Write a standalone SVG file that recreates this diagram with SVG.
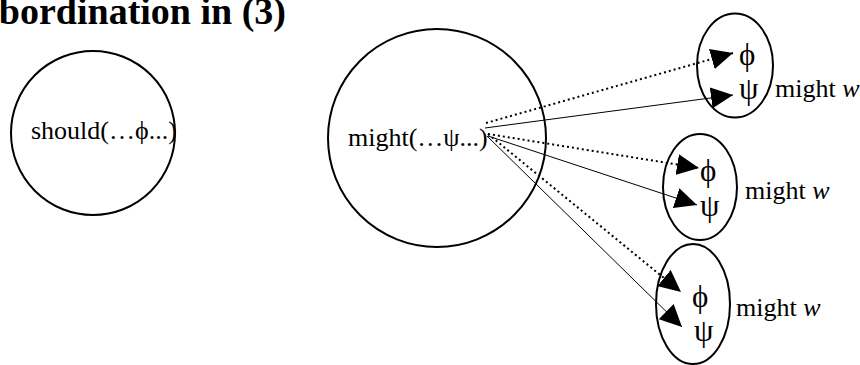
<svg xmlns="http://www.w3.org/2000/svg" width="860" height="365" viewBox="0 0 860 365">
<defs>
<marker id="ah" viewBox="0 0 22 21" refX="22" refY="10.5" markerWidth="22" markerHeight="21" markerUnits="userSpaceOnUse" orient="auto">
<path d="M0,0 L22,10.5 L0,21 z" fill="#000"/>
</marker>
</defs>
<style>
.t{font-family:"Liberation Serif","Times New Roman",serif;font-size:26px;fill:#000}
.title{font-family:"Liberation Serif","Times New Roman",serif;font-size:38px;font-weight:bold;fill:#000}
.g{font-family:"Liberation Serif","Times New Roman",serif;font-size:31px;fill:#000}
.shape{fill:none;stroke:#000;stroke-width:2}
.solid{stroke:#000;stroke-width:1;fill:none;marker-end:url(#ah)}
.dot{stroke:#000;stroke-width:2;stroke-dasharray:2 3;fill:none;marker-end:url(#ah)}
</style>
<rect width="860" height="365" fill="#fff"/>
<text class="title" x="286" y="24" text-anchor="end">subordination in (3)</text>
<g id="should">
<circle class="shape" cx="93" cy="133" r="82"/>
<text class="t" x="31" y="139">should(…ϕ...)</text>
</g>
<g id="might">
<circle class="shape" cx="437" cy="138" r="109"/>
<text class="t" x="348" y="146">might(…ψ...)</text>
</g>
<g id="w1">
<ellipse class="shape" cx="735" cy="65.5" rx="38" ry="52"/>
<text class="g" x="739" y="65">ϕ</text>
<text class="g" x="739" y="99">ψ</text>
<text class="t" x="775" y="97">might <tspan font-style="italic">w</tspan></text>
</g>
<g id="w2">
<ellipse class="shape" cx="700" cy="187" rx="37" ry="53"/>
<text class="g" x="700" y="181">ϕ</text>
<text class="g" x="700" y="216">ψ</text>
<text class="t" x="745" y="199">might <tspan font-style="italic">w</tspan></text>
</g>
<g id="w3">
<ellipse class="shape" cx="693" cy="304" rx="37" ry="60"/>
<text class="g" x="692" y="307">ϕ</text>
<text class="g" x="694" y="341">ψ</text>
<text class="t" x="736" y="316">might <tspan font-style="italic">w</tspan></text>
</g>
<g id="connectors">
<line class="dot" x1="486" y1="123" x2="733" y2="53"/>
<line class="solid" x1="485" y1="128" x2="733" y2="95"/>
<line class="dot" x1="488" y1="134" x2="699" y2="168"/>
<line class="solid" x1="488" y1="136" x2="697" y2="205"/>
<line class="dot" x1="488" y1="134" x2="681" y2="292"/>
<line class="solid" x1="487" y1="136" x2="682" y2="327"/>
</g>
</svg>
